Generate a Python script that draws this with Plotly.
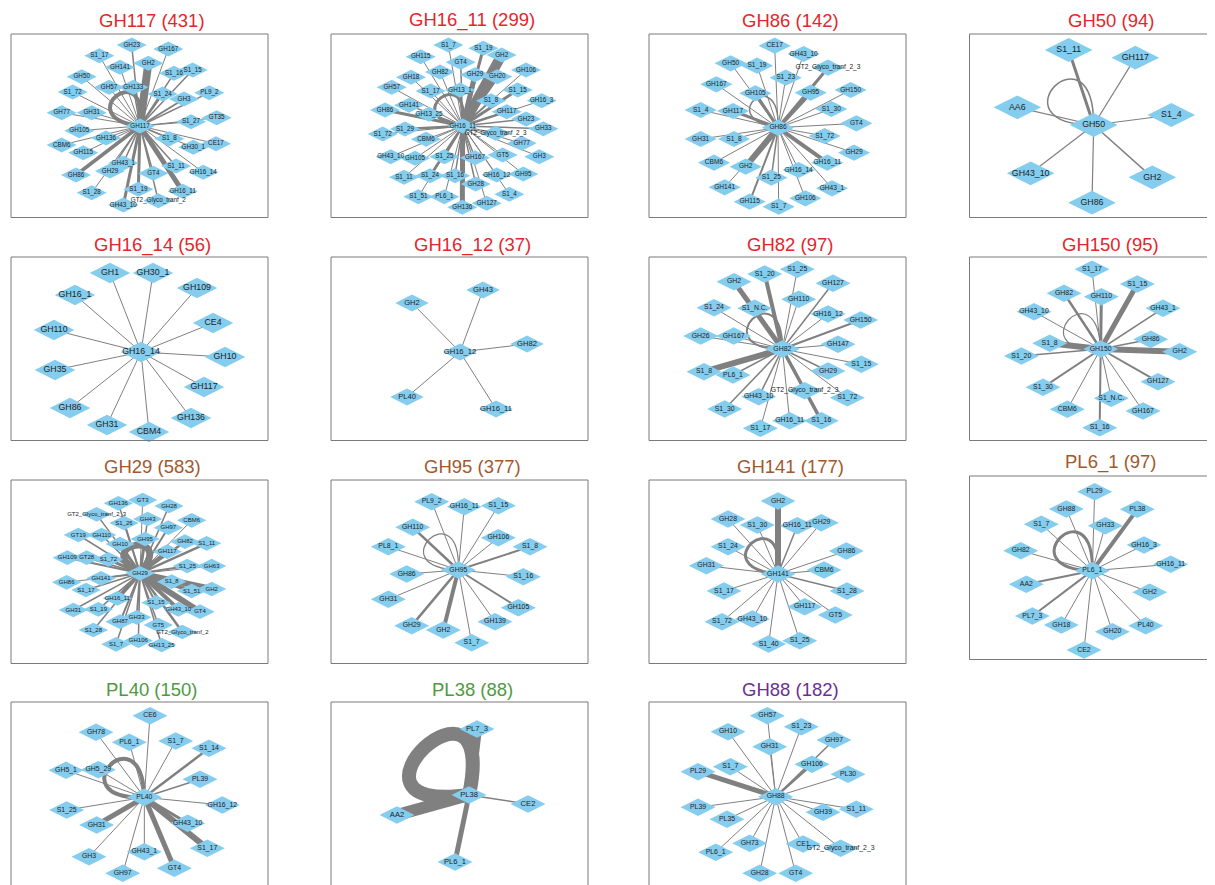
import math
import plotly.graph_objects as go

# ------------------------------------------------------------------
# DATA  (node positions are in each panel's own layout frame:
#        3 units per pixel, origin at the panel's top-left corner)
# ------------------------------------------------------------------
TITLES = ["GH117", "GH16_11", "GH86", "GH50",
          "GH16_14", "GH16_12", "GH82", "GH150",
          "GH29", "GH95", "GH141", "PL6_1",
          "PL40", "PL38", "GH88"]
COUNTS = [431, 299, 142, 94, 56, 37, 97, 95, 583, 377, 177, 97, 150, 88, 182]
GROUPS = ["red", "red", "red", "red", "red", "red", "red", "red",
          "brown", "brown", "brown", "brown", "green", "green", "purple"]

HUB_X = [390, 398, 390, 377, 393, 390, 403, 398, 390, 385, 390, 373, 403, 417, 383]
HUB_Y = [288, 288, 293, 285, 291, 291, 282, 282, 295, 285, 297, 302, 307, 300, 305]
SELF_LOOP_W = [4, 3, 1.5, 1.5, 0, 0, 2, 1.2, 7, 1.2, 3, 3, 4, 14, 0]

P1_NODES = ["GH23", "GH167", "S1_17", "GH141", "GH2", "S1_16", "S1_15", "GH50", "GH57", "GH133",
            "S1_72", "S1_24", "GH3", "PL9_2", "GH77", "GH31", "S1_27", "GT35", "GH105", "GH136",
            "S1_8", "CBM6", "GH115", "GH30_1", "CE17", "GH43_1", "S1_11", "GH16_14", "GH86", "GH29",
            "GT4", "S1_28", "S1_19", "GH16_11", "GT2_Glyco_tranf_2", "GH43_10"]
P1_X = [365, 475, 268, 330, 415, 492, 548, 215, 297, 370, 188, 458, 522, 598, 155, 245, 543, 620, 208, 288,
        478, 155, 220, 550, 618, 340, 498, 580, 198, 300, 430, 245, 385, 518, 445, 340]
P1_Y = [45, 57, 77, 112, 100, 130, 120, 140, 172, 172, 186, 192, 207, 188, 248, 248, 275, 263, 302, 324,
        326, 345, 368, 352, 341, 399, 408, 427, 435, 423, 430, 488, 478, 484, 512, 525]
P1_W = [1.5, 1, 1, 1, 8, 1.5, 1.5, 1, 1, 1.5, 1, 2, 2, 1.5, 1, 1, 1.2, 1, 1, 1,
        1.5, 1, 1, 1, 1, 1.5, 1.5, 1, 3.5, 1.5, 1.5, 1, 3, 5, 1.5, 3]

P2_NODES = ["S1_7", "S1_19", "GH2", "GH115", "GT4", "GH106", "GH82", "GH29", "GH20", "GH18",
            "GH57", "S1_17", "GH13_1", "S1_15", "S1_8", "GH16_3", "GH141", "GH86", "GH13_25", "GH117",
            "GH23", "GH33", "S1_72", "S1_29", "GT2_Glyco_tranf_2_3", "CBM6", "GH77", "GH43_10", "GH105", "S1_25",
            "GH167", "GT5", "GH3", "S1_11", "S1_24", "S1_16", "GH16_12", "GH95", "GH28", "S1_4",
            "S1_51", "PL6_1", "GH136", "GH127"]
P2_X = [355, 460, 515, 272, 392, 588, 330, 435, 502, 243, 185, 302, 390, 563, 483, 635, 237, 165, 297, 530,
        588, 640, 158, 225, 497, 288, 575, 182, 255, 343, 435, 518, 628, 222, 300, 375, 500, 580, 437, 538,
        265, 343, 397, 470]
P2_Y = [45, 55, 75, 80, 97, 120, 126, 134, 140, 142, 172, 183, 180, 180, 212, 212, 226, 240, 253, 245,
        267, 296, 312, 297, 310, 328, 340, 380, 385, 380, 383, 375, 380, 442, 437, 437, 435, 432, 462, 493,
        500, 500, 532, 520]
P2_W = [1, 3, 10, 1, 1.5, 1, 1, 5, 4, 1, 1, 1, 2, 3, 2, 1, 1.5, 3, 1.5, 2.5,
        1.5, 1.5, 1, 2.5, 1, 1, 1, 1, 1, 2, 1.5, 1, 1, 1, 2.5, 1.5, 1, 1, 1.5, 1,
        1, 1, 5, 1]

P3_NODES = ["CE17", "GH43_10", "GH50", "S1_19", "GT2_Glyco_tranf_2_3", "S1_23", "GH167", "GH105", "GH95", "GH150",
            "S1_4", "GH117", "S1_30", "GT4", "GH31", "S1_8", "S1_72", "GH29", "CBM6", "GH2",
            "GH16_11", "S1_25", "GH16_14", "GH43_1", "GH141", "GH106", "GH115", "S1_7"]
P3_X = [380, 467, 248, 327, 540, 413, 205, 322, 488, 608, 158, 255, 550, 625, 158, 258, 530, 618, 198, 293,
        538, 370, 452, 552, 230, 472, 305, 392]
P3_Y = [47, 72, 100, 107, 113, 143, 163, 190, 188, 180, 240, 243, 237, 280, 327, 327, 318, 368, 398, 410,
        398, 443, 420, 475, 472, 505, 515, 530]
P3_W = [1, 1, 1, 1, 3, 1, 1, 3, 4, 1, 1, 3, 1, 1, 1, 1, 1, 1, 1, 6,
        4, 1.5, 1, 1, 1, 1, 2, 1]

P4_NODES = ["S1_11", "GH117", "AA6", "S1_4", "GH43_10", "GH2", "GH86"]
P4_X = [302, 502, 148, 610, 188, 553, 372]
P4_Y = [60, 83, 232, 255, 430, 442, 518]
P4_W = [3, 1.2, 1.2, 1.2, 1.2, 1.5, 1.2]

P5_NODES = ["GH1", "GH30_1", "GH16_1", "GH109", "GH110", "CE4", "GH10", "GH35", "GH117", "GH86",
            "GH31", "CBM4", "GH136"]
P5_X = [300, 429, 195, 561, 132, 609, 645, 135, 582, 180, 291, 417, 543]
P5_Y = [54, 54, 120, 99, 225, 204, 306, 345, 396, 459, 510, 531, 489]
P5_W = [1, 1, 1, 1, 1, 1, 1, 1, 1, 1, 1, 1, 1]

P6_NODES = ["GH2", "GH43", "GH82", "PL40", "GH16_11"]
P6_X = [246, 459, 591, 231, 498]
P6_Y = [144, 105, 267, 426, 462]
P6_W = [1, 1, 1, 1, 1]

P7_NODES = ["S1_20", "S1_25", "GH2", "GH127", "GH110", "S1_24", "S1_N.C.", "GH16_12", "GH150", "GH26",
            "GH167", "GH147", "S1_15", "S1_8", "PL6_1", "GH29", "GT2_Glyco_tranf_2_3", "GH43_10", "S1_72", "S1_30",
            "GH16_11", "S1_16", "S1_17"]
P7_X = [350, 448, 258, 555, 452, 198, 320, 540, 638, 158, 257, 570, 640, 168, 255, 540, 470, 332, 598, 230,
        425, 520, 337]
P7_Y = [57, 43, 80, 85, 133, 158, 160, 177, 195, 243, 243, 268, 328, 350, 360, 348, 407, 425, 428, 462,
        497, 497, 520]
P7_W = [4, 1, 5, 1.5, 1, 1, 3, 1, 2, 1, 1, 1, 1, 6, 1.5, 1.5, 1.5, 1.5, 1, 1.5,
        1, 3.5, 1]

P8_NODES = ["S1_17", "S1_15", "GH82", "GH110", "GH43_10", "GH43_1", "S1_8", "GH86", "S1_20", "GH2",
            "S1_30", "GH127", "S1_N.C.", "CBM6", "GH167", "S1_16"]
P8_X = [372, 508, 288, 400, 198, 585, 245, 548, 160, 635, 225, 570, 430, 298, 525, 395]
P8_Y = [43, 87, 115, 125, 170, 160, 265, 253, 303, 290, 397, 380, 430, 463, 468, 518]
P8_W = [1, 5, 2.5, 3, 1, 1.5, 6, 1.5, 1.5, 6, 2, 2, 1, 1, 1, 2]

P9_NODES = ["GH136", "GT3", "GH28", "GT2_Glyco_tranf_2_3", "GH43", "S1_26", "CBM6", "GH97", "GT19", "GH110",
            "GH95", "GH10", "GH82", "S1_11", "GH109", "GT28", "S1_72", "GH117", "S1_25", "GH63",
            "GH86", "GH141", "S1_8", "S1_51", "GH2", "S1_17", "GH16_11", "GH31", "S1_19", "S1_15",
            "GH43_10", "GT4", "GH33", "GH87", "GT5", "GT2_Glyco_tranf_2", "S1_28", "S1_7", "GH106", "GH13_25"]
P9_X = [325, 398, 477, 260, 413, 342, 545, 475, 205, 275, 405, 330, 525, 590, 172, 230, 295, 472, 532, 605,
        170, 273, 485, 545, 605, 228, 322, 190, 265, 438, 505, 570, 380, 330, 445, 517, 250, 318, 385, 455]
P9_Y = [85, 75, 93, 118, 132, 144, 136, 158, 180, 180, 192, 207, 200, 205, 248, 248, 253, 230, 273, 273,
        322, 310, 320, 348, 342, 345, 370, 405, 403, 383, 403, 410, 427, 440, 450, 471, 465, 508, 497, 510]
P9_W = [1.5, 1, 1.5, 1.5, 1.5, 2, 1, 2, 1.5, 1.5, 3, 3, 2.5, 2.5, 2, 1.5, 3, 4, 2, 1,
        1, 2, 3, 4, 6, 1.5, 4, 1.5, 1.5, 2, 4, 6, 2, 2, 1.5, 2.5, 1.5, 1.5, 1.5, 1.5]

P10_NODES = ["PL9_2", "GH16_11", "S1_15", "GH110", "GH106", "PL8_1", "S1_8", "GH86", "S1_16", "GH31",
             "GH105", "GH139", "GH29", "GH2", "S1_7"]
P10_X = [305, 403, 505, 248, 505, 175, 600, 230, 580, 175, 565, 495, 245, 340, 425]
P10_Y = [80, 95, 92, 157, 188, 215, 215, 297, 305, 373, 398, 440, 452, 465, 503]
P10_W = [1, 1, 1, 2.5, 1, 1, 2, 1, 1, 1, 2, 1, 2.5, 4, 1]

P11_NODES = ["GH2", "GH28", "S1_30", "GH16_11", "GH29", "S1_24", "GH86", "GH31", "CBM6", "S1_17",
             "S1_28", "GH117", "GT5", "S1_72", "GH43_10", "S1_40", "S1_25"]
P11_X = [390, 240, 328, 448, 520, 240, 595, 175, 528, 228, 597, 470, 562, 222, 313, 362, 455]
P11_Y = [78, 132, 150, 152, 143, 215, 228, 272, 285, 348, 348, 395, 420, 440, 432, 507, 497]
P11_W = [6, 1, 1, 1.5, 1, 1, 1, 1, 1, 1, 1.5, 1, 1, 1, 1, 1, 1]

P12_NODES = ["PL29", "GH88", "PL38", "S1_7", "GH33", "GH82", "GH16_3", "GH16_11", "AA2", "GH2",
             "PL7_3", "GH18", "GH20", "PL40", "CE2"]
P12_X = [380, 295, 508, 220, 412, 158, 528, 608, 175, 545, 193, 280, 433, 533, 348]
P12_Y = [65, 117, 118, 163, 167, 242, 225, 283, 343, 367, 438, 465, 485, 467, 540]
P12_W = [1, 1, 4, 1, 1, 1, 1, 1, 2, 1, 2, 1, 1, 1, 1]

P13_NODES = ["CE6", "GH78", "PL6_1", "S1_7", "S1_14", "GH5_1", "GH5_29", "PL39", "S1_25", "GH16_12",
             "GH31", "GH43_10", "S1_17", "GH3", "GH43_1", "GT4", "GH97"]
P13_X = [420, 258, 358, 497, 597, 168, 265, 570, 170, 637, 260, 533, 592, 237, 403, 493, 338]
P13_Y = [62, 112, 142, 138, 160, 226, 224, 253, 345, 330, 390, 385, 460, 485, 470, 520, 535]
P13_W = [1, 1, 1, 1, 2.5, 1, 1, 1.5, 1, 1, 5, 3, 6, 1, 1, 5, 1]

P14_NODES = ["PL7_3", "AA2", "CE2", "PL6_1"]
P14_X = [441, 201, 594, 375]
P14_Y = [102, 360, 327, 501]
P14_W = [10, 12, 1.5, 5]

P15_NODES = ["GH57", "GH10", "S1_23", "GH97", "GH31", "S1_7", "GH106", "PL29", "PL30", "PL39",
             "PL35", "GH39", "S1_11", "GH73", "CE1", "GT2_Glyco_tranf_2_3", "PL6_1", "GH28", "GT4"]
P15_X = [358, 240, 460, 558, 365, 247, 492, 150, 600, 150, 237, 525, 625, 305, 465, 578, 203, 335, 443]
P15_Y = [62, 110, 95, 135, 155, 215, 208, 230, 238, 337, 373, 352, 343, 445, 447, 460, 472, 535, 535]
P15_W = [1, 1, 1, 1.5, 1, 1, 2.5, 5, 1, 1, 1, 1, 1, 1, 1, 1, 1, 1, 1]

NODES = [P1_NODES, P2_NODES, P3_NODES, P4_NODES, P5_NODES, P6_NODES, P7_NODES, P8_NODES,
         P9_NODES, P10_NODES, P11_NODES, P12_NODES, P13_NODES, P14_NODES, P15_NODES]
XS = [P1_X, P2_X, P3_X, P4_X, P5_X, P6_X, P7_X, P8_X, P9_X, P10_X, P11_X, P12_X, P13_X, P14_X, P15_X]
YS = [P1_Y, P2_Y, P3_Y, P4_Y, P5_Y, P6_Y, P7_Y, P8_Y, P9_Y, P10_Y, P11_Y, P12_Y, P13_Y, P14_Y, P15_Y]
WS = [P1_W, P2_W, P3_W, P4_W, P5_W, P6_W, P7_W, P8_W, P9_W, P10_W, P11_W, P12_W, P13_W, P14_W, P15_W]

# ------------------------------------------------------------------
# STYLE / LAYOUT  (page pixels; the page body adds an 8 px margin)
# ------------------------------------------------------------------
PAGE_OFF = 8
FIG_W, FIG_H = 1215 - PAGE_OFF, 885 - PAGE_OFF
COL_X = [10, 330, 648, 968]
COL_W = [286, 286, 286, 245]
ROW_Y = [30, 255, 475, 695]
BOX_LEFT = [11, 331, 649, 969.5]
BOX_RIGHT = [268, 588, 906, 1211]
BOX_TOP = [34, 257, 480, 702]
TITLE_Y = [20, 245, 467, 689]
SCALE = 3
COLORS = {"red": "#E4262B", "brown": "#A2582D", "green": "#4E9A40", "purple": "#6B2F92"}
NODE_SIZE = [21.5, 21.5, 23, 34, 29, 24, 25, 25, 21, 25, 25, 25, 25, 25, 25]
FONT_SIZE = [6.3, 6.3, 6.6, 8.8, 8.8, 7.6, 6.9, 6.9, 6.0, 6.9, 6.9, 6.9, 6.9, 7.6, 6.9]
LOOP_ANGLE = [128, 128, 130, 135, 0, 0, 135, 138, 100, 133, 130, 134, 137, 133, 0]
LOOP_REACH = [115, 107, 110, 165, 0, 0, 127, 130, 85, 127, 122, 138, 141, 195, 0]
LOOP_SPREAD = [45, 45, 42, 45, 0, 0, 45, 45, 50, 45, 45, 45, 45, 55, 0]
EDGE_COLOR = "#808080"
NODE_COLOR = "#85CDEF"
FONT = "Liberation Sans, Arial, sans-serif"


def px_x(p):
    return (p - PAGE_OFF) / FIG_W


def px_y(p):
    return 1 - (p - PAGE_OFF) / FIG_H


fig = go.Figure()
shapes = []
annotations = []
layout_axes = {}

for i in range(15):
    r, c = divmod(i, 4)
    special = (r == 2 and c == 3)
    cy0 = ROW_Y[r] - (5 if special else 0)
    cx0, cw, ch = COL_X[c], COL_W[c], 190
    ax = "" if i == 0 else str(i + 1)
    xd = [max(0.0, px_x(cx0)), min(1.0, px_x(cx0 + cw))]
    yd = [max(0.0, px_y(cy0 + ch)), min(1.0, px_y(cy0))]
    layout_axes["xaxis" + ax] = dict(domain=xd, range=[0, cw * SCALE], visible=False,
                                     fixedrange=True, anchor="y" + ax)
    layout_axes["yaxis" + ax] = dict(domain=yd, range=[ch * SCALE, 0], visible=False,
                                     fixedrange=True, anchor="x" + ax)

    hx, hy = HUB_X[i], HUB_Y[i]
    groups = {}
    for x, y, w in zip(XS[i], YS[i], WS[i]):
        groups.setdefault(w, ([], []))
        groups[w][0].extend([hx, x, None])
        groups[w][1].extend([hy, y, None])
    for w in sorted(groups):
        gx, gy = groups[w]
        fig.add_trace(go.Scatter(x=gx, y=gy, mode="lines", xaxis="x" + ax, yaxis="y" + ax,
                                 line=dict(color=EDGE_COLOR, width=w), hoverinfo="skip",
                                 showlegend=False))
    if SELF_LOOP_W[i] > 0:
        a = math.radians(LOOP_ANGLE[i])
        d = math.radians(LOOP_SPREAD[i])
        s = LOOP_REACH[i] / (0.75 * math.cos(d))
        p1 = (hx + s * math.cos(a - d), hy - s * math.sin(a - d))
        p2 = (hx + s * math.cos(a + d), hy - s * math.sin(a + d))
        shapes.append(dict(type="path", xref="x" + ax, yref="y" + ax, layer="below",
                           path=f"M {hx},{hy} C {p1[0]:.1f},{p1[1]:.1f} {p2[0]:.1f},{p2[1]:.1f} {hx},{hy}",
                           line=dict(color=EDGE_COLOR, width=SELF_LOOP_W[i])))
    fig.add_trace(go.Scatter(
        x=list(XS[i]) + [hx], y=list(YS[i]) + [hy], text=list(NODES[i]) + [TITLES[i]],
        mode="markers+text", xaxis="x" + ax, yaxis="y" + ax, cliponaxis=False,
        marker=dict(symbol="diamond-wide", size=NODE_SIZE[i], color=NODE_COLOR, line=dict(width=0)),
        textposition="middle center",
        textfont=dict(family=FONT, size=FONT_SIZE[i], color="#222222"),
        hoverinfo="text", showlegend=False))

    top = BOX_TOP[r] - (4 if special else 0)
    bottom = top + 183.5 if r < 3 else 910
    shapes.append(dict(type="rect", xref="paper", yref="paper",
                       x0=px_x(BOX_LEFT[c]), x1=px_x(BOX_RIGHT[c]),
                       y0=px_y(bottom), y1=px_y(top),
                       line=dict(color="#7A7A7A", width=1), fillcolor="rgba(0,0,0,0)"))
    ty = TITLE_Y[r] - (5 if special else 0)
    annotations.append(dict(xref="paper", yref="paper", x=px_x(BOX_LEFT[c] + 141),
                            y=px_y(ty), xanchor="center", yanchor="middle",
                            text=f"{TITLES[i]} ({COUNTS[i]})", showarrow=False,
                            font=dict(family=FONT, size=18.5, color=COLORS[GROUPS[i]])))

fig.update_layout(width=FIG_W, height=FIG_H, margin=dict(l=0, r=0, t=0, b=0),
                  paper_bgcolor="white", plot_bgcolor="white",
                  shapes=shapes, annotations=annotations, showlegend=False, **layout_axes)
fig.write_html("out.html")
